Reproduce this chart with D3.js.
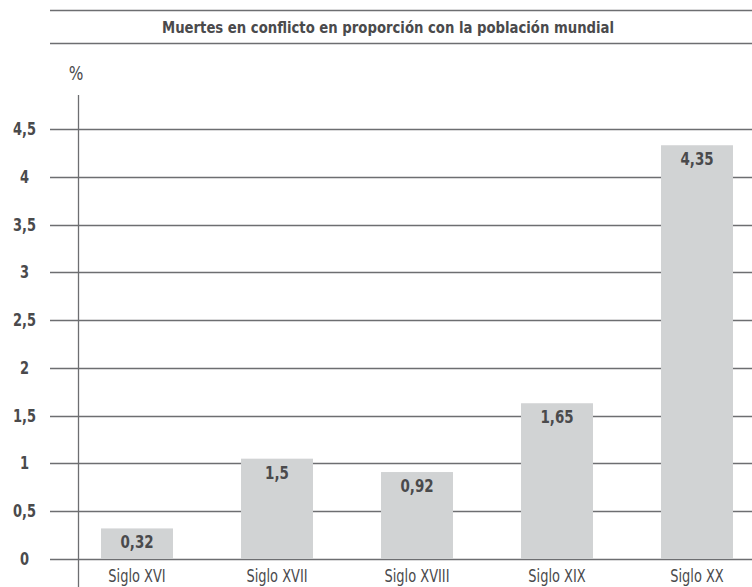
<!DOCTYPE html>
<html>
<head>
<meta charset="utf-8">
<script src="https://cdn.jsdelivr.net/npm/d3@7"></script>
<style>
  html, body { margin: 0; padding: 0; background: #fff; }
  svg { display: block; }
  text { font-family: "DejaVu Sans Condensed", "DejaVu Sans", sans-serif; }
</style>
</head>
<body>
<svg id="chart" width="752" height="587"></svg>
<script>
const title = "Muertes en conflicto en proporción con la población mundial";
const unitLabel = "%";
const categories = ["Siglo XVI", "Siglo XVII", "Siglo XVIII", "Siglo XIX", "Siglo XX"];
// bar heights as drawn in the picture
const values = [0.32, 1.05, 0.91, 1.63, 4.33];
// value labels as printed on the bars
const valueLabels = ["0,32", "1,5", "0,92", "1,65", "4,35"];
const yTicks = [0, 0.5, 1, 1.5, 2, 2.5, 3, 3.5, 4, 4.5];
const yTickLabels = ["0", "0,5", "1", "1,5", "2", "2,5", "3", "3,5", "4", "4,5"];

const textColor = "#4a4a4c";
const lineColor = "#6d6e71";
const barColor = "#d1d3d4";

const svg = d3.select("#chart");

const y = d3.scaleLinear().domain([0, 4.5]).range([559, 129]);
const x = d3.scaleBand().domain(categories).range([67, 767]).paddingInner(0.486).paddingOuter(0.243);

// title rules
svg.append("line").attr("x1", 50).attr("x2", 752).attr("y1", 10.5).attr("y2", 10.5)
  .attr("stroke", lineColor).attr("stroke-width", 1.5);
svg.append("line").attr("x1", 50).attr("x2", 752).attr("y1", 43.5).attr("y2", 43.5)
  .attr("stroke", lineColor).attr("stroke-width", 1.5);
svg.append("text").attr("x", 388).attr("y", 33).attr("text-anchor", "middle")
  .attr("font-size", 16).attr("font-weight", "bold").attr("fill", textColor)
  .attr("textLength", 452).attr("lengthAdjust", "spacingAndGlyphs")
  .text(title);

// unit
svg.append("text").attr("transform", "translate(76,80) scale(0.9,1)").attr("text-anchor", "middle")
  .attr("font-size", 19).attr("fill", textColor).text(unitLabel);

// gridlines
svg.append("g").selectAll("line").data(yTicks).join("line")
  .attr("x1", 50).attr("x2", 752)
  .attr("y1", d => Math.round(y(d)) + 0.5).attr("y2", d => Math.round(y(d)) + 0.5)
  .attr("stroke", lineColor).attr("stroke-width", 1.3);

// y tick labels
svg.append("g").selectAll("text").data(yTicks).join("text")
  .attr("transform", d => `translate(24.5,${y(d) + 6}) scale(0.85,1)`)
  .attr("text-anchor", "middle")
  .attr("font-size", 17).attr("font-weight", "bold").attr("fill", textColor)
  .text((d, i) => yTickLabels[i]);

// bars
svg.append("g").selectAll("rect").data(values).join("rect")
  .attr("x", (d, i) => x(categories[i]))
  .attr("width", x.bandwidth())
  .attr("y", d => y(d))
  .attr("height", d => y(0) - y(d))
  .attr("fill", barColor);

// y axis line
svg.append("line").attr("x1", 78.5).attr("x2", 78.5).attr("y1", 95).attr("y2", 587)
  .attr("stroke", lineColor).attr("stroke-width", 1.3);

// value labels
svg.append("g").selectAll("text").data(values).join("text")
  .attr("transform", (d, i) => `translate(${x(categories[i]) + x.bandwidth() / 2},${y(d) + 20}) scale(0.83,1)`)
  .attr("text-anchor", "middle")
  .attr("font-size", 18).attr("font-weight", "bold").attr("fill", textColor)
  .text((d, i) => valueLabels[i]);

// category labels
svg.append("g").selectAll("text").data(categories).join("text")
  .attr("transform", d => `translate(${x(d) + x.bandwidth() / 2},582) scale(0.78,1)`)
  .attr("text-anchor", "middle")
  .attr("font-size", 18.5).attr("fill", textColor)
  .text(d => d);
</script>
</body>
</html>
